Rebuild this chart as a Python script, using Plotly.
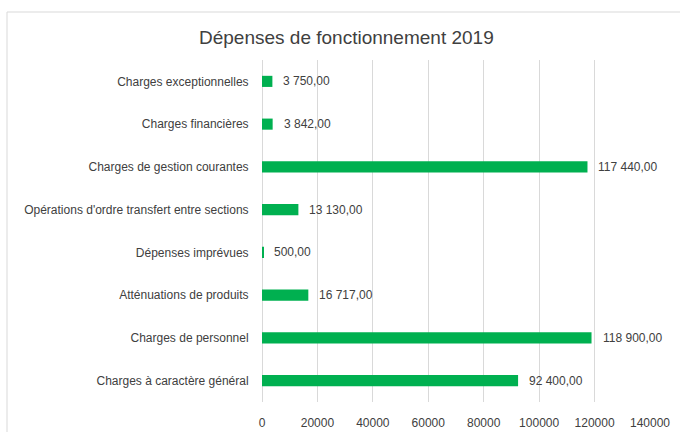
import plotly.graph_objects as go

categories = [
    "Charges à caractère général",
    "Charges de personnel",
    "Atténuations de produits",
    "Dépenses imprévues",
    "Opérations d'ordre transfert entre sections",
    "Charges de gestion courantes",
    "Charges financières",
    "Charges exceptionnelles",
]
values = [92400, 118900, 16717, 500, 13130, 117440, 3842, 3750]
x_ticks = [0, 20000, 40000, 60000, 80000, 100000, 120000, 140000]


def fr(v):
    s = f"{v:,.2f}"
    return s.replace(",", " ").replace(".", ",")


labels = [fr(v) for v in values]

FONT = "Liberation Sans, Arial, sans-serif"
TXT = "#404040"

fig = go.Figure(
    go.Bar(
        x=values,
        y=categories,
        orientation="h",
        marker=dict(color="#00B050", line=dict(width=0)),
        width=0.26,
        hoverinfo="x+y",
    )
)

annotations = [
    dict(
        x=v,
        y=c,
        xref="x",
        yref="y",
        text=t,
        showarrow=False,
        xanchor="left",
        yanchor="middle",
        xshift=9,
        font=dict(family=FONT, size=12, color=TXT),
    )
    for v, c, t in zip(values, categories, labels)
]

annotations.append(
    dict(
        text="Dépenses de fonctionnement 2019",
        xref="paper",
        yref="paper",
        x=(346 - 262) / 388,
        y=(432 - 37 - 30) / 342,
        xanchor="center",
        yanchor="middle",
        showarrow=False,
        font=dict(family=FONT, size=19, color=TXT),
    )
)

fig.update_layout(
    width=680,
    height=432,
    margin=dict(l=262, r=30, t=60, b=30, autoexpand=False),
    paper_bgcolor="white",
    plot_bgcolor="white",
    showlegend=False,
    annotations=annotations,
    xaxis=dict(
        range=[0, 140000],
        tickvals=x_ticks,
        ticktext=[str(t) for t in x_ticks],
        showgrid=True,
        gridcolor="#d9d9d9",
        gridwidth=1,
        zeroline=True,
        zerolinecolor="#d9d9d9",
        zerolinewidth=1,
        showline=False,
        ticks="outside",
        ticklen=10,
        tickcolor="rgba(0,0,0,0)",
        tickfont=dict(family=FONT, size=12, color=TXT),
        automargin=False,
        fixedrange=True,
    ),
    yaxis=dict(
        showgrid=False,
        showline=False,
        zeroline=False,
        ticks="outside",
        ticklen=10,
        tickcolor="rgba(0,0,0,0)",
        tickfont=dict(family=FONT, size=12, color=TXT),
        range=[-0.5, 7.5],
        automargin=False,
        fixedrange=True,
    ),
    shapes=[
        dict(
            type="rect",
            xref="paper",
            yref="paper",
            x0=(7 - 262) / 388,
            x1=1.3,
            y0=-0.3,
            y1=(432 - 12 - 30) / 342,
            line=dict(color="#d9d9d9", width=1),
            fillcolor="rgba(0,0,0,0)",
            layer="below",
        )
    ],
)

fig.write_html(
    "out.html",
    config={"displayModeBar": False},
    post_script="document.body.style.margin='0';document.body.style.overflow='hidden';",
)
